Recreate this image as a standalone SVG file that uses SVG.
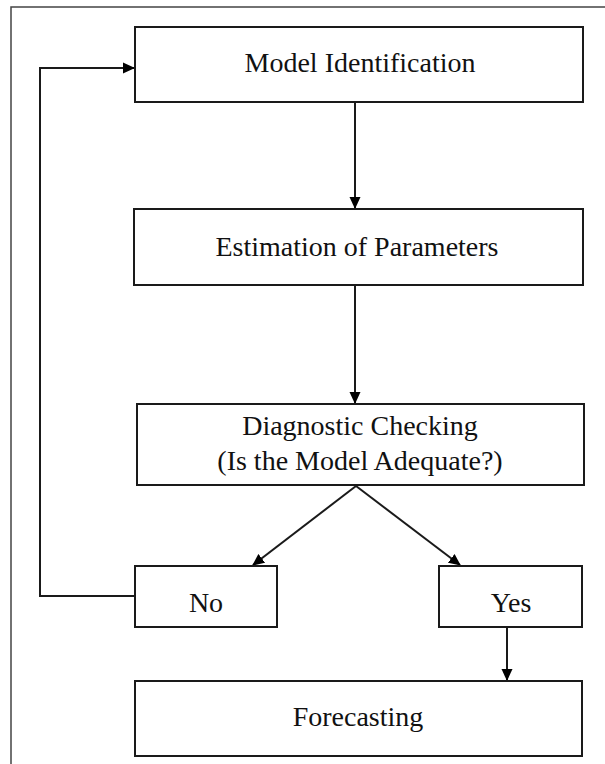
<svg xmlns="http://www.w3.org/2000/svg" width="605" height="764" viewBox="0 0 605 764">
<style>
.box{fill:#fff;stroke:#1a1a1a;stroke-width:2}
.lbl{font-family:"Liberation Serif","Times New Roman",serif;font-size:28px;fill:#111;text-anchor:middle}
.conn{fill:none;stroke:#1a1a1a;stroke-width:2}
</style>
<defs>
<marker id="ah" markerWidth="12" markerHeight="12" refX="11" refY="6" orient="auto" markerUnits="userSpaceOnUse">
<path d="M0,0.5 L12,6 L0,11.5 Z" fill="#000"/>
</marker>
</defs>
<rect width="605" height="764" fill="#fff"/>
<path d="M11,764 L11,7 L605,7" fill="none" stroke="#444" stroke-width="1.5"/>
<g id="connectors">
<path class="conn" d="M355,102 L355,208" marker-end="url(#ah)"/>
<path class="conn" d="M355,285 L355,403" marker-end="url(#ah)"/>
<path class="conn" d="M356,486 L253,565" marker-end="url(#ah)"/>
<path class="conn" d="M356,486 L460,565" marker-end="url(#ah)"/>
<path class="conn" d="M507,627 L507,680" marker-end="url(#ah)"/>
<path class="conn" d="M135,596 L40,596 L40,68 L134,68" stroke-width="1.6" marker-end="url(#ah)"/>
</g>
<g id="model-identification">
<rect class="box" x="135" y="27" width="448" height="75"/>
<text class="lbl" x="360" y="72">Model Identification</text>
</g>
<g id="estimation">
<rect class="box" x="134" y="209" width="449" height="76"/>
<text class="lbl" x="357" y="256">Estimation of Parameters</text>
</g>
<g id="diagnostic">
<rect class="box" x="137" y="404" width="447" height="81"/>
<text class="lbl" x="360" y="435">Diagnostic Checking</text>
<text class="lbl" x="360" y="470">(Is the Model Adequate?)</text>
</g>
<g id="no">
<rect class="box" x="135" y="566" width="142" height="61"/>
<text class="lbl" x="206" y="612">No</text>
</g>
<g id="yes">
<rect class="box" x="439" y="566" width="143" height="61"/>
<text class="lbl" x="511" y="612">Yes</text>
</g>
<g id="forecasting">
<rect class="box" x="135" y="681" width="447" height="75"/>
<text class="lbl" x="358" y="726">Forecasting</text>
</g>
</svg>
